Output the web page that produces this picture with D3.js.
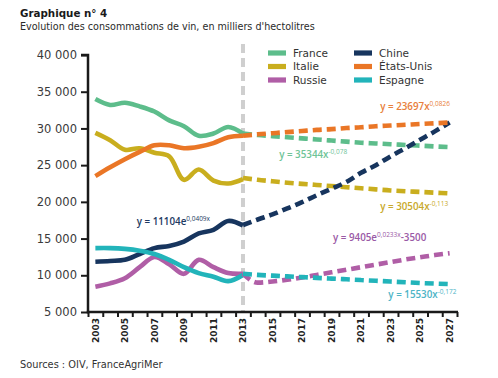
<!DOCTYPE html>
<html><head><meta charset="utf-8">
<script src="https://cdn.jsdelivr.net/npm/d3@7"></script>
<style>
html,body{margin:0;padding:0;background:#fff;}
svg{display:block;font-family:"DejaVu Sans",sans-serif;}
</style></head>
<body>
<svg id="chart" width="498" height="378"></svg>
<script>
// ---------- data ----------
const histYears = [2003,2004,2005,2006,2007,2008,2009,2010,2011,2012,2013];
const projYears = [2013,2014,2015,2016,2017,2018,2019,2020,2021,2022,2023,2024,2025,2026,2027];
const allYears = d3.range(2003, 2028);
const yTicks = [5000,10000,15000,20000,25000,30000,35000,40000];
const xTickLabels = [2003,2005,2007,2009,2011,2013,2015,2017,2019,2021,2023,2025,2027];

const seriesNames = ["France","Italie","Russie","Chine","États-Unis","Espagne"];

const franceHist   = [34000,33200,33500,33000,32300,31100,30300,29000,29300,30200,29300];
const italieHist   = [29400,28400,27100,27300,26700,26200,23000,24400,22900,22500,23100];
const russieHist   = [8450,8900,9600,11100,12500,11500,10200,12100,11100,10300,10200];
const chineHist    = [11850,11950,12100,12900,13700,14000,14600,15700,16200,17400,16800];
const usHist       = [23500,24700,25800,26800,27700,27700,27300,27500,28000,28800,29000];
const espagneHist  = [13700,13700,13600,13350,12900,12100,11100,10300,9800,9200,10050];

const franceProj   = [29300,29100,28950,28800,28650,28500,28350,28200,28050,27950,27850,27750,27650,27550,27450];
const italieProj   = [23250,23000,22800,22600,22450,22300,22150,22000,21850,21700,21550,21450,21350,21250,21150];
const russieProj   = [10200,9000,9150,9400,9700,10050,10400,10750,11100,11450,11800,12150,12450,12750,13000];
const chineProj    = [16850,17600,18300,19100,19950,20900,21800,22700,23950,25000,26200,27300,28450,29600,30800];
const usProj       = [29000,29200,29350,29500,29650,29800,29900,30050,30150,30300,30400,30500,30600,30700,30800];
const espagneProj  = [10200,10050,9950,9850,9750,9650,9550,9450,9350,9250,9150,9050,8950,8870,8800];

const equations = [
  {name:"États-Unis", base:"y = 23697x", sup:"0,0826", tail:"", x:2022.3, v:32550},
  {name:"France",     base:"y = 35344x", sup:"-0,078", tail:"", x:2015.45, v:25950},
  {name:"Italie",     base:"y = 30504x", sup:"-0,113", tail:"", x:2022.3, v:18950},
  {name:"Chine",      base:"y = 11104e", sup:"0,0409x", tail:"", x:2005.8, v:16800},
  {name:"Russie",     base:"y = 9405e",  sup:"0,0233x", tail:"-3500", x:2019.1, v:14650},
  {name:"Espagne",    base:"y = 15530x", sup:"-0,172", tail:"", x:2022.85, v:6900}
];

// ---------- styles ----------
const colors = {
  "France":"#5dbd8b",
  "Italie":"#c9ae1e",
  "Russie":"#b05ea6",
  "Chine":"#17355e",
  "États-Unis":"#ea7626",
  "Espagne":"#22b4ba"
};
const textColors = {
  "France":"#6fc497",
  "Italie":"#c8a92a",
  "Russie":"#9a5aa6",
  "Chine":"#1d3a62",
  "États-Unis":"#e8803a",
  "Espagne":"#4db4c6"
};

const hist = {"France":franceHist,"Italie":italieHist,"Russie":russieHist,"Chine":chineHist,"États-Unis":usHist,"Espagne":espagneHist};
const proj = {"France":franceProj,"Italie":italieProj,"Russie":russieProj,"Chine":chineProj,"États-Unis":usProj,"Espagne":espagneProj};

const svg = d3.select("#chart");

// scales
const x = d3.scaleBand().domain(allYears).range([88, 457]).paddingInner(0).paddingOuter(0);
const xc = yr => x(yr) + x.bandwidth()/2;
const xLin = d3.scaleLinear().domain([2002.5, 2027.5]).range([88, 457]);
const y = d3.scaleLinear().domain([5000, 40000]).range([312, 55]);

const loc = d3.formatLocale({decimal:",", thousands:" ", grouping:[3], currency:["","€"]});
const fmt = loc.format(",d");

// titles
svg.append("text").attr("x",20).attr("y",17).attr("font-size",10.3).attr("font-weight","bold")
  .attr("fill","#1a1a1a").text("Graphique n° 4");
svg.append("text").attr("x",20).attr("y",30).attr("font-size",9.6)
  .attr("fill","#2a2a2a").text("Evolution des consommations de vin, en milliers d'hectolitres");
svg.append("text").attr("x",20).attr("y",368).attr("font-size",9.8)
  .attr("fill","#333").text("Sources : OIV, FranceAgriMer");

// gray vertical dashed line at 2013
svg.append("line")
  .attr("x1", xc(2013)).attr("x2", xc(2013))
  .attr("y1", 44).attr("y2", 311)
  .attr("stroke","#cfcfcf").attr("stroke-width",4).attr("stroke-dasharray","9,5");

// lines
const lineGen = d3.line().x(d=>xc(d[0])).y(d=>y(d[1])).curve(d3.curveCatmullRom.alpha(0.5));
const projGen = d3.line().x(d=>xc(d[0])).y(d=>y(d[1])).curve(d3.curveMonotoneX);

seriesNames.forEach(n=>{
  svg.append("path")
    .datum(histYears.map((yr,i)=>[yr, hist[n][i]]))
    .attr("d", lineGen)
    .attr("fill","none").attr("stroke",colors[n]).attr("stroke-width",4.6)
    .attr("stroke-linejoin","round").attr("stroke-linecap","butt");
});
seriesNames.forEach(n=>{
  svg.append("path")
    .datum(projYears.map((yr,i)=>[yr, proj[n][i]]))
    .attr("d", projGen)
    .attr("fill","none").attr("stroke",colors[n]).attr("stroke-width",4.6)
    .attr("stroke-dasharray","9,5");
});

// axes
const yAxis = svg.append("g").attr("transform","translate(88,0)")
  .call(d3.axisLeft(y).tickValues(yTicks).tickSize(7).tickPadding(4).tickFormat(fmt));
yAxis.select(".domain").attr("stroke","#1a1a1a").attr("stroke-width",2.5)
  .attr("d", `M-7,${y(40000)}H0V${y(5000)+1.2}`);
yAxis.selectAll(".tick line").attr("stroke","#1a1a1a").attr("stroke-width",2);
yAxis.selectAll(".tick text").attr("font-size",11.5).attr("fill","#3a3a3a")
  .attr("font-family","DejaVu Sans, sans-serif");

const xAxisTicks = svg.append("g").attr("transform","translate(0,312)")
  .call(d3.axisBottom(xLin).tickValues(d3.range(2002.5, 2028, 1)).tickSize(5).tickFormat(""));
xAxisTicks.select(".domain").attr("stroke","#1a1a1a").attr("stroke-width",2.5).attr("d","M86.8,0H458");
xAxisTicks.selectAll(".tick line").attr("stroke","#1a1a1a").attr("stroke-width",2);

const xAxisLabels = svg.append("g").attr("transform","translate(0,312)")
  .call(d3.axisBottom(x).tickValues(xTickLabels).tickSize(0).tickPadding(0));
xAxisLabels.select(".domain").remove();
xAxisLabels.selectAll(".tick text")
  .attr("font-size",9).attr("font-weight","bold").attr("fill","#222")
  .attr("font-family","DejaVu Sans, sans-serif")
  .attr("text-anchor","end")
  .attr("transform","translate(0,6) rotate(-90)")
  .attr("x",0).attr("y",0).attr("dy","0.35em");

// legend
const legendItems = [
  {n:"France", lx:268, ly:53}, {n:"Chine", lx:354, ly:53},
  {n:"Italie", lx:268, ly:66.5}, {n:"États-Unis", lx:354, ly:66.5},
  {n:"Russie", lx:268, ly:80}, {n:"Espagne", lx:354, ly:80}
];
const lg = svg.append("g");
legendItems.forEach(it=>{
  lg.append("rect").attr("x",it.lx).attr("y",it.ly-2.6).attr("width",18).attr("height",5.2)
    .attr("fill",colors[it.n]);
  lg.append("text").attr("x",it.lx+25).attr("y",it.ly+3.8).attr("font-size",10.5)
    .attr("fill","#333").text(it.n);
});

// equations
equations.forEach(e=>{
  const t = svg.append("text").attr("x", xLin(e.x)).attr("y", y(e.v))
    .attr("font-family","'Open Sans', sans-serif")
    .attr("font-size",9.8).attr("font-weight",600).attr("fill",textColors[e.name]);
  t.append("tspan").text(e.base);
  t.append("tspan").attr("dy",-4).attr("font-size",6.5).attr("font-weight",400).text(e.sup);
  if (e.tail) t.append("tspan").attr("dy",4).text(e.tail);
});
</script>
</body></html>
